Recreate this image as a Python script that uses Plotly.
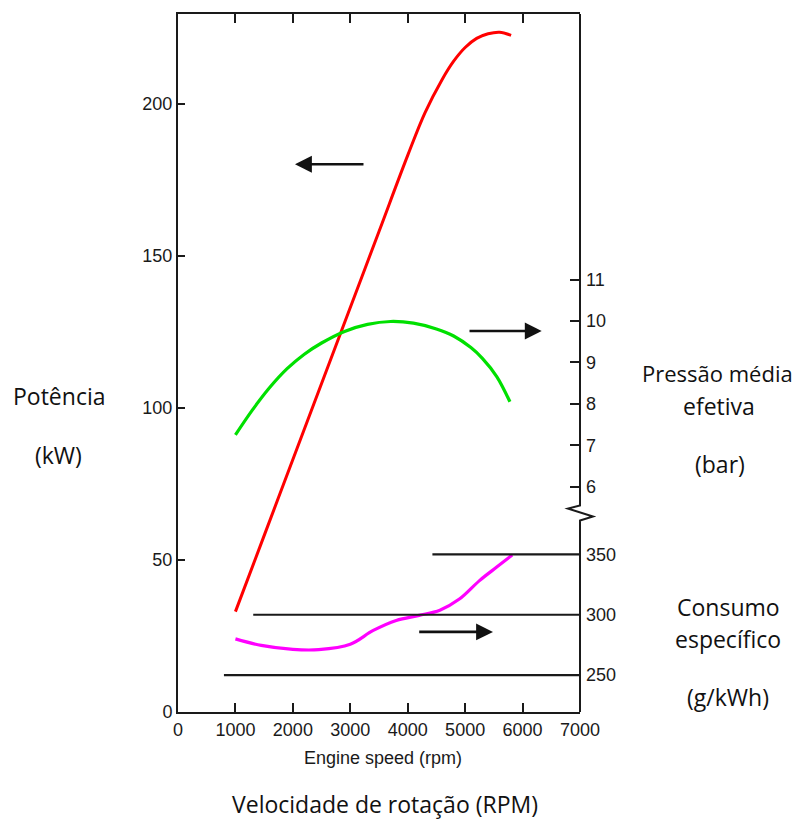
import plotly.graph_objects as go

# ---------------- data ----------------
rpm_power = [1000, 1500, 2000, 2500, 3000, 3500, 4000, 4300, 4600, 4800, 5000, 5200, 5400, 5600, 5800]
power_kw = [33, 58, 83, 108, 133, 158, 183, 197, 208, 214, 218.5, 221.5, 223, 223.5, 222.5]

rpm_pme = [1000, 1300, 1600, 1900, 2200, 2500, 2900, 3300, 3700, 4100, 4500, 4800, 5100, 5300, 5550, 5780]
pme_bar = [7.25, 7.86, 8.40, 8.85, 9.2, 9.47, 9.75, 9.92, 9.99, 9.95, 9.81, 9.64, 9.36, 9.1, 8.66, 8.05]

rpm_sfc = [1000, 1450, 2000, 2450, 3000, 3400, 3800, 4200, 4560, 4900, 5250, 5550, 5820]
sfc_gkwh = [280, 274.6, 271.3, 271.1, 275.6, 287, 295.3, 299.5, 303.8, 313, 328.3, 339.5, 349.5]

ref_levels = [250, 300, 350]
ref_start_rpm = [800, 1310, 4430]

x_ticks = [0, 1000, 2000, 3000, 4000, 5000, 6000, 7000]
kw_ticks = [0, 50, 100, 150, 200]
bar_ticks = [6, 7, 8, 9, 10, 11]
sfc_ticks = [250, 300, 350]

# ---------------- layout helpers ----------------
OFF = 8  # page body margin
W, H = 802 - OFF, 823 - OFF
L, R, T, B = 178, 580, 12, 712  # plot area in window pixels


def px(x):
    return (x - L) / (R - L)


def py(y):
    return (B - y) / (B - T)


tick_font = dict(family="Liberation Sans, Arial, sans-serif", size=18, color="#1a1a1a")
label_font = dict(family="Open Sans, Noto Sans, sans-serif", size=23, color="#111111")
label_font_r = dict(family="Open Sans, Noto Sans, sans-serif", size=22, color="#111111")

fig = go.Figure()

fig.add_trace(go.Scatter(x=rpm_power, y=power_kw, mode="lines", line=dict(color="#ff0000", width=3, shape="spline"),
                         yaxis="y", showlegend=False))
fig.add_trace(go.Scatter(x=rpm_pme, y=pme_bar, mode="lines", line=dict(color="#00e000", width=3.2, shape="spline"),
                         yaxis="y2", showlegend=False))
fig.add_trace(go.Scatter(x=rpm_sfc, y=sfc_gkwh, mode="lines", line=dict(color="#ff00ff", width=3.2, shape="spline"),
                         yaxis="y3", showlegend=False))
for lvl, xs in zip(ref_levels, ref_start_rpm):
    fig.add_trace(go.Scatter(x=[xs, 7000], y=[lvl, lvl], mode="lines", line=dict(color="#1a1a1a", width=2.2),
                             yaxis="y3", showlegend=False, hoverinfo="skip"))

fig.update_layout(
    width=W, height=H,
    margin=dict(l=L - OFF, r=802 - R, t=T - OFF, b=823 - B),
    paper_bgcolor="white", plot_bgcolor="white",
    xaxis=dict(range=[0, 7000], tickvals=x_ticks, ticks="inside", ticklen=9, tickwidth=1.5, tickcolor="#1a1a1a",
               showline=True, linecolor="#1a1a1a", linewidth=2, mirror="ticks", showgrid=False, zeroline=False,
               tickfont=tick_font),
    yaxis=dict(range=[0, 229.5], tickvals=kw_ticks, ticks="inside", ticklen=7, tickwidth=1.5, tickcolor="#1a1a1a",
               showline=True, linecolor="#1a1a1a", linewidth=2, showgrid=False, zeroline=False,
               tickfont=tick_font),
    yaxis2=dict(range=[0.554, 17.42], overlaying="y", side="right", tickvals=bar_ticks, ticks="inside", ticklen=10,
                tickwidth=1.5, tickcolor="#1a1a1a", showline=False, showgrid=False, zeroline=False,
                ticklabelstandoff=5, tickfont=tick_font),
    yaxis3=dict(range=[219.4, 797.9], overlaying="y", side="right", tickvals=sfc_ticks, ticks="",
                showline=False, showgrid=False, zeroline=False, ticklabelstandoff=5, tickfont=tick_font),
)

# right axis line with break mark
path = (f"M {px(580)},{py(12)} L {px(580)},{py(505)} L {px(568)},{py(508)} "
        f"L {px(593)},{py(516)} L {px(580)},{py(520)} L {px(580)},{py(712)}")
fig.add_shape(type="path", path=path, xref="paper", yref="paper", line=dict(color="#1a1a1a", width=2))

# arrows
arrow = dict(showarrow=True, arrowhead=2, arrowsize=1.3, arrowwidth=2.6, arrowcolor="#111111", text="")
fig.add_annotation(x=2037, y=180.1, ax=3256, ay=180.1, xref="x", yref="y", axref="x", ayref="y", **arrow)
fig.add_annotation(x=6333, y=9.76, ax=5050, ay=9.76, xref="x", yref="y2", axref="x", ayref="y2", **arrow)
fig.add_annotation(x=5485, y=285.8, ax=4174, ay=285.8, xref="x", yref="y3", axref="x", ayref="y3", **arrow)

# text labels (positions in window pixels)
texts = [
    ("Potência", 59, 395, label_font),
    ("(kW)", 58, 454, label_font),
    ("Pressão média", 717, 372, label_font_r),
    ("efetiva", 719, 405, label_font),
    ("(bar)", 720, 463, label_font),
    ("Consumo", 728, 607, label_font),
    ("específico", 728, 639, label_font),
    ("(g/kWh)", 728, 697, label_font),
    ("Velocidade de rotação (RPM)", 385, 804, label_font),
    ("Engine speed (rpm)", 383, 758, dict(family="Liberation Sans, Arial, sans-serif", size=18, color="#1a1a1a")),
]
for t, x, y, f in texts:
    fig.add_annotation(text=t, x=px(x), y=py(y), xref="paper", yref="paper", showarrow=False,
                       xanchor="center", yanchor="middle", font=f)

fig.write_html("out.html")
